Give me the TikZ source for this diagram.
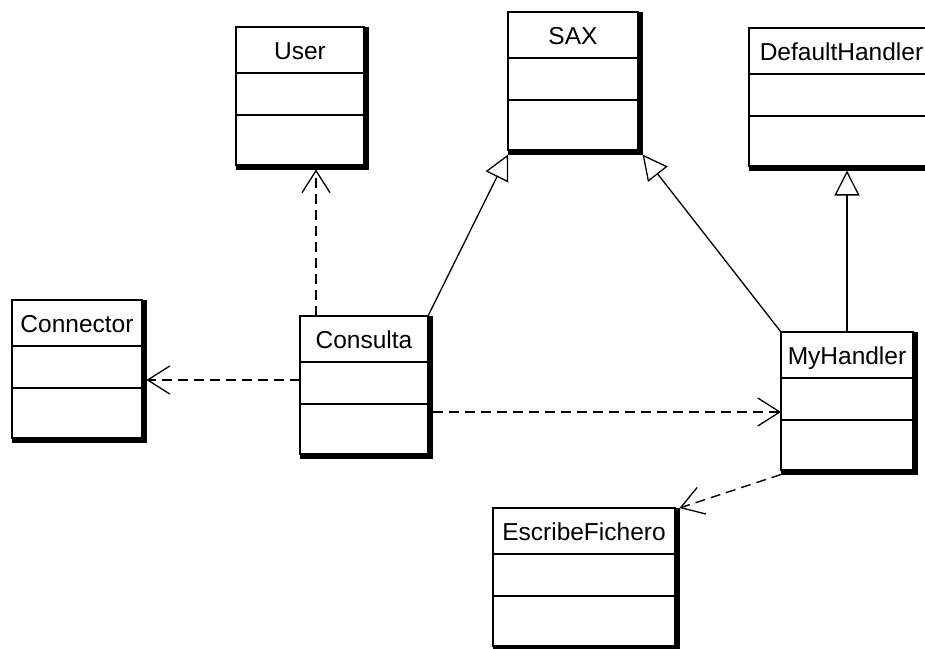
\documentclass[tikz,border=0pt]{standalone}
\usepackage{fontspec}
\setmainfont{Liberation Sans}
\usetikzlibrary{arrows.meta,calc}

\tikzset{
  classbox/.style={draw=black, fill=white, line width=1.3pt, inner sep=0pt, outer sep=0pt, minimum height=138pt},
  classshadow/.style={fill=black, inner sep=0pt, outer sep=0pt, minimum height=142.5pt},
  classtitle/.style={inner sep=0pt, anchor=base, font=\fontsize{24.5}{29}\selectfont},
  rowline/.style={line width=1.3pt},
  depend/.style={line width=1.4pt, dash pattern=on 10pt off 6pt,
    -{Straight Barb[length=22pt, width=28pt, line width=1.3pt]}},
  generalize/.style={line width=1.3pt,
    -{Triangle[length=25pt, width=25pt, fill=white, line width=1.3pt]}},
}

% #1 name, #2 left x, #3 top y, #4 width, #5 class name
\newcommand\umlclass[5]{%
  \node[classshadow, minimum width=#4pt+4.5pt, anchor=north west] (#1-s) at (#2,#3) {};
  \node[classbox, minimum width=#4pt, anchor=north west] (#1) at (#2,#3) {};
  \node[classtitle] (#1-t) at ($(#1.north)+(0,32)$) {#5};
  \draw[rowline] ($(#1.north west)+(0,46)$) -- ($(#1.north east)+(0,46)$);
  \draw[rowline] ($(#1.north west)+(0,88)$) -- ($(#1.north east)+(0,88)$);
}

\begin{document}
\begin{tikzpicture}[x=1pt, y=-1pt]
  \path[use as bounding box, clip] (0,0) rectangle (925,648);
  \fill[white] (0,0) rectangle (925,648);

  % classes
  \umlclass{user}{236}{27}{128}{User}
  \umlclass{sax}{508}{12}{130}{SAX}
  \umlclass{dh}{749}{28}{185}{DefaultHandler}
  \umlclass{connector}{12}{300}{130}{Connector}
  \umlclass{consulta}{300}{316}{128}{Consulta}
  \umlclass{myhandler}{781}{332}{132}{MyHandler}
  \umlclass{escribe}{493}{508}{182}{EscribeFichero}

  % generalizations
  \draw[generalize] (consulta.north east) -- (sax-s.south west);
  \draw[generalize] (myhandler.north west) -- (sax-s.south east);
  \draw[generalize] (myhandler.north) -- (myhandler.north |- dh-s.south);

  % dependencies
  \coordinate (cu) at ($(consulta.north west)+(16,0)$);
  \draw[depend] (cu) -- (cu |- user-s.south);
  \coordinate (cc) at ($(consulta.north west)+(0,64)$);
  \draw[depend] (cc) -- (cc -| connector-s.east);
  \coordinate (cm) at ($(consulta-s.north east)+(0,96)$);
  \draw[depend] (cm) -- (cm -| myhandler.west);
  \draw[depend] (myhandler-s.south west) -- (escribe-s.north east);
\end{tikzpicture}
\end{document}
